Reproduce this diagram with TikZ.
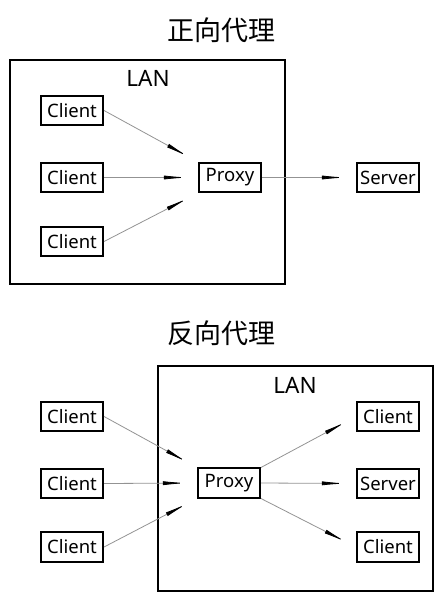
\documentclass[tikz,border=0pt]{standalone}
\usepackage{fontspec}
\setmainfont{Noto Sans}
\newfontfamily\cjk{Noto Sans CJK SC}
\usetikzlibrary{arrows.meta}
\begin{document}
\begin{tikzpicture}[x=1pt, y=-1pt,
  box/.style={draw, line width=1.6pt, minimum width=62.5pt, minimum height=29.5pt, inner sep=0pt, font=\fontsize{18.5}{20}\selectfont},
  lanbox/.style={draw, line width=1.6pt, inner sep=0pt},
  flow/.style={draw=gray!85, line width=0.8pt, shorten >=10pt, -{Latex[length=24pt, width=4pt, black]}},
  title/.style={font=\cjk\fontsize{27}{30}\selectfont},
  lanlabel/.style={font=\fontsize{22.5}{24}\selectfont}]
  \useasboundingbox (0,0) rectangle (444,600);
  % forward proxy
  \node[title] (t1) at (221,30) {正向代理};
  \node[lanbox, minimum width=275pt, minimum height=224pt] (lan1) at (147.5,172) {};
  \node[lanlabel] (l1) at (148,78) {LAN};
  \node[box] (ca1) at (72,110.5) {Client};
  \node[box] (cb1) at (72,177.5) {Client};
  \node[box] (cc1) at (72,241.5) {Client};
  \node[box] (px1) at (230,177.5) {Proxy};
  \node[box] (srv1) at (388,177.5) {Server};
  \draw[flow] (ca1.east) -- (px1.north west);
  \draw[flow] (cb1.east) -- (px1.west);
  \draw[flow] (cc1.east) -- (px1.south west);
  \draw[flow] (px1.east) -- (srv1.west);
  % reverse proxy
  \node[title] (t2) at (221,333) {反向代理};
  \node[lanbox, minimum width=275pt, minimum height=225pt] (lan2) at (295.5,478.5) {};
  \node[lanlabel] (l2) at (295,385) {LAN};
  \node[box] (ca2) at (72,416.5) {Client};
  \node[box] (cb2) at (72,483.5) {Client};
  \node[box] (cc2) at (72,547) {Client};
  \node[box] (px2) at (229,483) {Proxy};
  \node[box] (cd2) at (388,416.5) {Client};
  \node[box] (srv2) at (388,483.5) {Server};
  \node[box] (ce2) at (388,547) {Client};
  \draw[flow] (ca2.east) -- (px2.north west);
  \draw[flow] (cb2.east) -- (px2.west);
  \draw[flow] (cc2.east) -- (px2.south west);
  \draw[flow] (px2.north east) -- (cd2.west);
  \draw[flow] (px2.east) -- (srv2.west);
  \draw[flow] (px2.south east) -- (ce2.west);
\end{tikzpicture}
\end{document}
